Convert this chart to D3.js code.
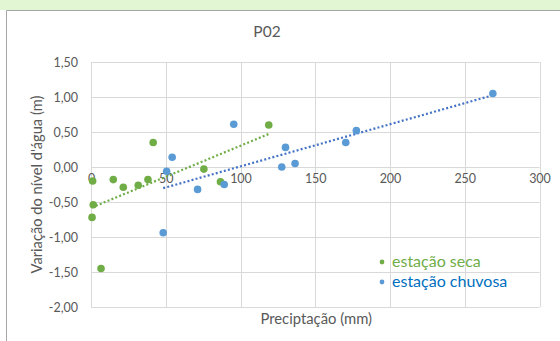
<!DOCTYPE html>
<html>
<head>
<meta charset="utf-8">
<script src="https://cdn.jsdelivr.net/npm/d3@7/dist/d3.min.js"></script>
<style>
  html, body { margin: 0; padding: 0; background: #fff; }
  svg { display: block; font-family: Lato, "Open Sans", sans-serif; }
</style>
</head>
<body>
<div id="chart"></div>
<script>
(function () {
  'use strict';

  // Estação seca (dry season): precipitation (mm) vs water level change (m)
  const drySeasonX = [1.1, 14.9, 21.6, 31.6, 38.1, 41.6, 1.5, 0.7, 6.7, 75.5, 86.6, 118.9];
  const drySeasonY = [-0.20, -0.18, -0.29, -0.26, -0.18, 0.35, -0.54, -0.72, -1.45, -0.03, -0.21, 0.60];

  // Estação chuvosa (rainy season)
  const rainySeasonX = [50.6, 54.3, 71.3, 48.3, 89.1, 95.5, 130.1, 127.6, 136.5, 170.4, 177.5, 268.8];
  const rainySeasonY = [-0.06, 0.14, -0.32, -0.94, -0.25, 0.61, 0.28, 0.00, 0.05, 0.35, 0.52, 1.05];

  const xTicks = [0, 50, 100, 150, 200, 250, 300];
  const yTicks = [-2, -1.5, -1, -0.5, 0, 0.5, 1, 1.5];

  const SERIES = [
    { name: 'estação seca', xs: drySeasonX, ys: drySeasonY, color: '#70AD47', textColor: '#70AD47', line: '#70AD47' },
    { name: 'estação chuvosa', xs: rainySeasonX, ys: rainySeasonY, color: '#5B9BD5', textColor: '#0070C0', line: '#4472C4' },
  ];

  const W = 560, H = 341;
  const plot = { left: 91, right: 539.5, top: 62, bottom: 307 };

  const svg = d3.select('#chart').append('svg')
    .attr('width', W).attr('height', H);

  // Top band and chart frame
  svg.append('rect').attr('x', 0).attr('y', 0).attr('width', W).attr('height', 10).attr('fill', '#E3F6D4');
  svg.append('line').attr('x1', 6.5).attr('y1', 10.5).attr('x2', W).attr('y2', 10.5).attr('stroke', '#A6A6A6');
  svg.append('line').attr('x1', 6.5).attr('y1', 10.5).attr('x2', 6.5).attr('y2', H).attr('stroke', '#A6A6A6');

  const x = d3.scaleLinear().domain([0, 300]).range([plot.left, plot.right]);
  const y = d3.scaleLinear().domain([-2, 1.5]).range([plot.bottom, plot.top]);
  const fmt = d => d3.format('.2f')(d).replace('.', ',').replace('−', '-');

  // Gridlines
  const grid = svg.append('g');
  yTicks.forEach(t => {
    grid.append('line')
      .attr('x1', plot.left).attr('x2', plot.right)
      .attr('y1', Math.round(y(t)) + 0.5).attr('y2', Math.round(y(t)) + 0.5)
      .attr('stroke', '#D9D9D9');
  });
  xTicks.forEach(t => {
    grid.append('line')
      .attr('x1', Math.round(x(t)) + 0.5).attr('x2', Math.round(x(t)) + 0.5)
      .attr('y1', plot.top).attr('y2', plot.bottom)
      .attr('stroke', '#D9D9D9');
  });

  // Y axis labels
  const yAxis = svg.append('g')
    .attr('transform', `translate(${plot.left},0)`)
    .call(d3.axisLeft(y).tickValues(yTicks).tickFormat(fmt).tickSize(0).tickPadding(13));
  yAxis.select('.domain').remove();
  yAxis.selectAll('text').attr('fill', '#595959').attr('font-size', 12.5).attr('font-family', 'Lato, sans-serif');

  // X axis labels, sitting at y = 0
  const xAxis = svg.append('g')
    .attr('transform', `translate(0,${y(0)})`)
    .call(d3.axisBottom(x).tickValues(xTicks).tickFormat(d3.format('d')).tickSize(0).tickPadding(7));
  xAxis.select('.domain').remove();
  xAxis.selectAll('text').attr('fill', '#595959').attr('font-size', 12.5).attr('font-family', 'Lato, sans-serif');

  // Trendlines (least squares, like Excel's linear trendline)
  SERIES.forEach(s => {
    const mx = d3.mean(s.xs), my = d3.mean(s.ys);
    const slope = d3.sum(s.xs, (v, i) => (v - mx) * (s.ys[i] - my)) / d3.sum(s.xs, v => (v - mx) * (v - mx));
    const icpt = my - slope * mx;
    const [x0, x1] = d3.extent(s.xs);
    svg.append('line')
      .attr('x1', x(x0)).attr('y1', y(icpt + slope * x0))
      .attr('x2', x(x1)).attr('y2', y(icpt + slope * x1))
      .attr('stroke', s.line).attr('stroke-width', 2.2)
      .attr('stroke-dasharray', '2,2.2');
  });

  // Points
  SERIES.forEach(s => {
    svg.append('g').selectAll('circle')
      .data(s.xs.map((v, i) => [v, s.ys[i]]))
      .join('circle')
      .attr('cx', d => x(d[0])).attr('cy', d => y(d[1]))
      .attr('r', 3.8).attr('fill', s.color);
  });

  // Title
  svg.append('text').attr('x', 267).attr('y', 37)
    .attr('text-anchor', 'middle').attr('fill', '#595959')
    .attr('font-size', 15.5).text('P02');

  // Axis titles
  svg.append('text')
    .attr('transform', `translate(42,${(plot.top + plot.bottom) / 2}) rotate(-90)`)
    .attr('text-anchor', 'middle').attr('fill', '#595959')
    .attr('font-size', 14.7).text('Variação do nível d\'água (m)');
  svg.append('text').attr('x', (plot.left + plot.right) / 2 + 1).attr('y', 324)
    .attr('text-anchor', 'middle').attr('fill', '#595959')
    .attr('font-size', 14.8).text('Preciptação (mm)');

  // Legend
  SERIES.forEach((s, i) => {
    const ly = 262 + i * 20;
    svg.append('circle').attr('cx', 382).attr('cy', ly).attr('r', 2.4).attr('fill', s.color);
    svg.append('text').attr('x', 392).attr('y', ly + 5)
      .attr('fill', s.textColor).attr('font-size', 16).text(s.name);
  });
})();
</script>
</body>
</html>
